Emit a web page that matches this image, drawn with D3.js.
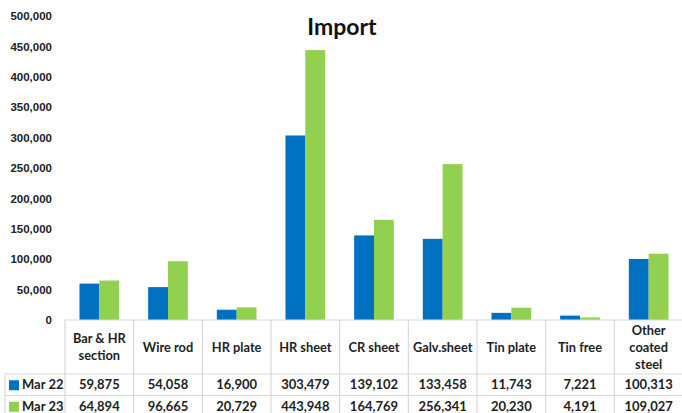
<!DOCTYPE html>
<html>
<head>
<meta charset="utf-8">
<script src="https://cdn.jsdelivr.net/npm/d3@7"></script>
<style>
	body { margin: 0; background: #fff; }
	svg { display: block; font-family: Lato, "Open Sans", sans-serif; }
</style>
</head>
<body>
<div id="chart"></div>
<script>
// data
const categories = ["Bar & HR section", "Wire rod", "HR plate", "HR sheet", "CR sheet", "Galv.sheet", "Tin plate", "Tin free", "Other coated steel"];
const categoryLines = [["Bar & HR", "section"], ["Wire rod"], ["HR plate"], ["HR sheet"], ["CR sheet"], ["Galv.sheet"], ["Tin plate"], ["Tin free"], ["Other", "coated", "steel"]];
const seriesNames = ["Mar 22", "Mar 23"];
const mar22 = [59875, 54058, 16900, 303479, 139102, 133458, 11743, 7221, 100313];
const mar23 = [64894, 96665, 20729, 443948, 164769, 256341, 20230, 4191, 109027];
const yTicks = [0, 50000, 100000, 150000, 200000, 250000, 300000, 350000, 400000, 450000, 500000];
const colors = ["#0070C0", "#92D050"];

const series = [mar22, mar23];

// container size
const W = 682, H = 413;
const plot = {left: 65, right: 683, top: 16, bottom: 320};
const rowTop = plot.bottom, catRowBottom = 374, rowH = 21.5;

/* eslint-disable indent */
const svg = d3.select("#chart")
	.append("svg")
		.attr("width", W)
		.attr("height", H);

// scales
const x = d3.scaleBand()
	.domain(categories)
	.range([plot.left, plot.right]);
const xs = d3.scaleBand()
	.domain(seriesNames)
	.range([0, x.bandwidth()])
	.paddingInner(0)
	.paddingOuter(0.73);
const y = d3.scaleLinear()
	.domain([0, 500000])
	.range([plot.bottom, plot.top]);

// Y axis
svg.append("g")
		.attr("transform", `translate(${plot.left - 10},0)`)
		.call(d3.axisLeft(y).tickValues(yTicks).tickFormat(d3.format(",")).tickSize(0).tickPadding(3))
		.call(g => g.select(".domain").remove())
	.selectAll("text")
		.attr("font-size", "11.5px")
		.attr("font-weight", "bold")
		.attr("fill", "#222");

// title
svg.append("text")
		.attr("x", 342)
		.attr("y", 35)
		.attr("text-anchor", "middle")
		.attr("font-size", "23px")
		.attr("font-weight", "bold")
		.attr("fill", "#111")
		.text("Import");

// bars
svg.append("g")
	.selectAll("g")
	.data(series)
	.join("g")
		.attr("fill", (d, i) => colors[i])
	.selectAll("rect")
	.data((d, i) => d.map((v, j) => ({cat: categories[j], s: seriesNames[i], v})))
	.join("rect")
		.attr("x", d => x(d.cat) + xs(d.s))
		.attr("y", d => y(d.v))
		.attr("width", xs.bandwidth())
		.attr("height", d => y(0) - y(d.v));

// data table
const grid = svg.append("g")
	.attr("stroke", "#d9d9d9")
	.attr("stroke-width", 1.2);
const rowsBottom = catRowBottom + rowH * 2;
// vertical lines
grid.selectAll("line.v")
	.data(categories.concat(["end"]))
	.join("line")
		.attr("x1", (d, i) => i < categories.length ? x(d) : plot.right)
		.attr("x2", (d, i) => i < categories.length ? x(d) : plot.right)
		.attr("y1", rowTop)
		.attr("y2", rowsBottom);
// legend column left edge
grid.append("line")
	.attr("x1", 5).attr("x2", 5)
	.attr("y1", catRowBottom).attr("y2", rowsBottom);
// horizontal lines
grid.append("line")
	.attr("x1", plot.left).attr("x2", plot.right)
	.attr("y1", rowTop).attr("y2", rowTop);
grid.selectAll("line.h")
	.data([catRowBottom, catRowBottom + rowH, rowsBottom])
	.join("line")
		.attr("x1", 5).attr("x2", plot.right)
		.attr("y1", d => d).attr("y2", d => d);

// category labels
const catG = svg.append("g")
	.attr("font-size", "12.8px")
	.attr("font-weight", "bold")
	.attr("fill", "#222")
	.attr("text-anchor", "middle");
catG.selectAll("text")
	.data(categories)
	.join("text")
		.attr("x", d => x(d) + x.bandwidth() / 2)
		.attr("y", (d, i) => (rowTop + catRowBottom) / 2 + 4.5 - (categoryLines[i].length - 1) * 8.5)
	.selectAll("tspan")
	.data((d, i) => categoryLines[i])
	.join("tspan")
		.attr("x", function() { return this.parentNode.getAttribute("x"); })
		.attr("dy", (d, i) => i === 0 ? 0 : 17)
		.text(d => d);

// value rows
const rows = svg.append("g")
	.selectAll("g")
	.data(series)
	.join("g")
		.attr("transform", (d, i) => `translate(0,${catRowBottom + rowH * i + rowH / 2 + 4.5})`);
rows.append("rect")
		.attr("x", 9)
		.attr("y", -9)
		.attr("width", 10)
		.attr("height", 10)
		.attr("fill", (d, i) => colors[i]);
rows.append("text")
		.attr("x", 22)
		.attr("font-size", "13px")
		.attr("font-weight", "bold")
		.attr("fill", "#222")
		.text((d, i) => seriesNames[i]);
rows.selectAll("text.val")
	.data(d => d)
	.join("text")
		.attr("class", "val")
		.attr("x", (d, j) => x(categories[j]) + x.bandwidth() / 2)
		.attr("text-anchor", "middle")
		.attr("font-size", "13px")
		.attr("font-weight", "bold")
		.attr("fill", "#222")
		.text(d => d3.format(",")(d));
/* eslint-enable */
</script>
</body>
</html>
